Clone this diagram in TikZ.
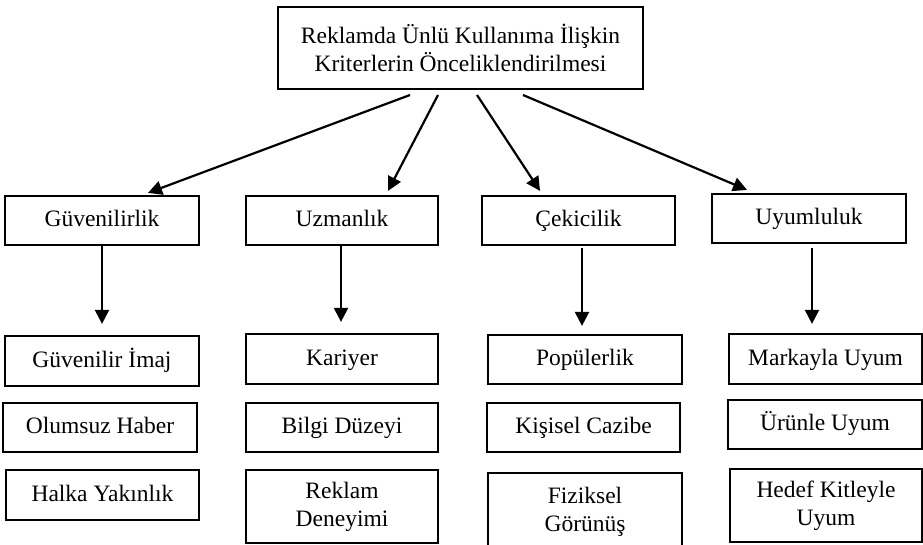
\documentclass[tikz,border=0pt]{standalone}
\usepackage{fontspec}
\setmainfont{Liberation Serif}
\usetikzlibrary{arrows.meta,positioning}
\begin{document}
\begin{tikzpicture}[x=1pt,y=-1pt,
  box/.style={draw=black,line width=2.2pt,rectangle,inner sep=0pt,align=center,
    font=\fontsize{23.5}{28}\selectfont,fill=white},
  one/.style={box,text height=17pt,text depth=5pt},
  arr/.style={line width=2.2pt,-{Triangle[length=14pt,width=14pt]}}]
\useasboundingbox (0,0) rectangle (923,545);
\node[box,minimum width=365pt,minimum height=82pt] (top) at (460.5,48) {Reklamda Ünlü Kullanıma İlişkin\\Kriterlerin Önceliklendirilmesi};
\node[one,minimum width=194pt,minimum height=49pt] (g) at (102,220.5) {Güvenilirlik};
\node[one,minimum width=192pt,minimum height=49pt] (u) at (342,220.5) {Uzmanlık};
\node[one,minimum width=193pt,minimum height=49pt] (c) at (578.5,220.5) {Çekicilik};
\node[one,minimum width=194pt,minimum height=49pt] (y) at (809,218.5) {Uyumluluk};
\node[one,minimum width=194pt,minimum height=50pt] (g1) at (102,361) {Güvenilir İmaj};
\node[one,minimum width=194pt,minimum height=49pt] (g2) at (100,427.5) {Olumsuz Haber};
\node[one,minimum width=193pt,minimum height=50pt] (g3) at (102.5,495) {Halka Yakınlık};
\node[one,minimum width=192pt,minimum height=50pt] (u1) at (342,359) {Kariyer};
\node[one,minimum width=192pt,minimum height=49pt] (u2) at (342,427.5) {Bilgi Düzeyi};
\node[box,minimum width=192pt,minimum height=73pt] (u3) at (342,506.5) {Reklam\\Deneyimi};
\node[one,minimum width=194pt,minimum height=49pt] (c1) at (585,359.5) {Popülerlik};
\node[one,minimum width=193pt,minimum height=49pt] (c2) at (583.5,427.5) {Kişisel Cazibe};
\node[box,minimum width=194pt,minimum height=78pt] (c3) at (585,512) {Fiziksel\\Görünüş};
\node[one,minimum width=193pt,minimum height=50pt] (y1) at (825.5,359) {Markayla Uyum};
\node[one,minimum width=194pt,minimum height=49pt] (y2) at (825,424.5) {Ürünle Uyum};
\node[box,minimum width=192pt,minimum height=73pt] (y3) at (826,505.5) {Hedef Kitleyle\\Uyum};
% top arrows
\coordinate (s1) at (410,95);
\coordinate (s2) at (438,95);
\coordinate (s3) at (477,95);
\coordinate (s4) at (523,95);
\draw[arr] (s1) -- ([xshift=46pt,yshift=2pt]g.north);
\draw[arr] (s2) -- ([xshift=46pt,yshift=4pt]u.north);
\draw[arr] (s3) -- ([xshift=-38.5pt,yshift=4pt]c.north);
\draw[arr] (s4) -- ([xshift=-62pt,yshift=3pt]y.north);
% vertical arrows
\draw[arr] (g.south) -- ([yshift=11pt]g1.north);
\draw[arr] ([xshift=-1pt]u.south) -- ([xshift=-1pt,yshift=11pt]u1.north);
\draw[arr] ([xshift=3.5pt,yshift=-2pt]c.south) -- ([xshift=-3pt,yshift=8pt]c1.north);
\draw[arr] ([xshift=3pt,yshift=-4pt]y.south) -- ([xshift=-13.5pt,yshift=9pt]y1.north);
\end{tikzpicture}
\end{document}
